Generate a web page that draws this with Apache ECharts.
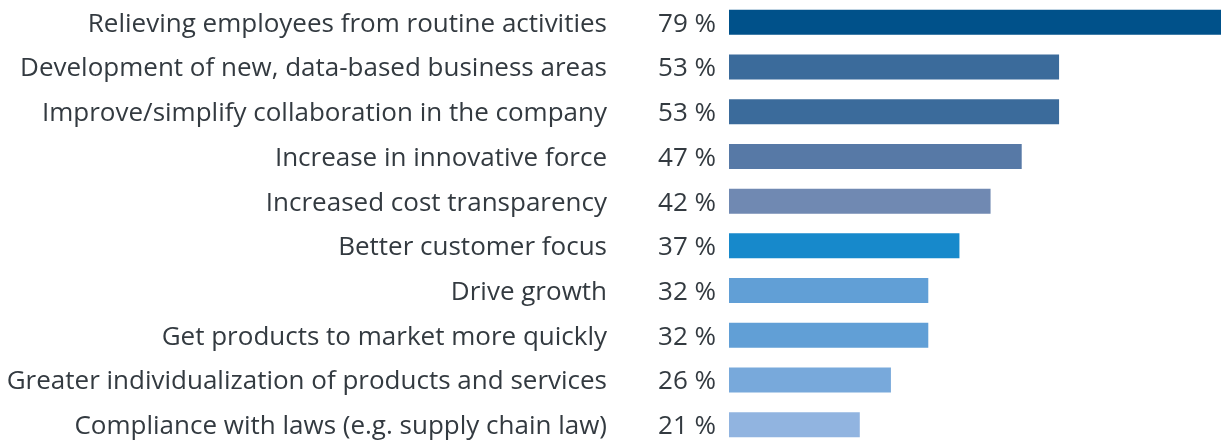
<!DOCTYPE html>
<html>
<head>
<meta charset="utf-8">
<style>
html,body{margin:0;padding:0;background:#fff;}
#chart{width:1221px;height:441px;}
</style>
<script src="https://cdn.jsdelivr.net/npm/echarts@6/dist/echarts.min.js"></script>
</head>
<body>
<div id="chart"></div>
<script>
const categories = [
  "Relieving employees from routine activities",
  "Development of new, data-based business areas",
  "Improve/simplify collaboration in the company",
  "Increase in innovative force",
  "Increased cost transparency",
  "Better customer focus",
  "Drive growth",
  "Get products to market more quickly",
  "Greater individualization of products and services",
  "Compliance with laws (e.g. supply chain law)"
];
const values = [79, 53, 53, 47, 42, 37, 32, 32, 26, 21];
const barColors = ["#00518a", "#3b6b9b", "#3b6b9b", "#5779a6", "#7089b2", "#1789cb", "#619fd6", "#619fd6", "#78a9db", "#91b4e0"];

const FONT = "Open Sans";
const TEXT = "#333a40";
const chart = echarts.init(document.getElementById('chart'), null, {renderer: 'canvas'});
chart.setOption({
  animation: false,
  grid: {left: 729, right: 0, top: 0, height: 447, containLabel: false, outerBoundsMode: 'none'},
  xAxis: {type: 'value', min: 0, max: 79, show: false},
  yAxis: {
    type: 'category', data: categories, inverse: true,
    axisLine: {show: false}, axisTick: {show: false}, splitLine: {show: false},
    axisLabel: {margin: 122, align: 'right',
      formatter: v => '{c|' + v + '}',
      rich: {c: {fontFamily: FONT, fontSize: 26, color: TEXT, padding: [4, 0, 0, 0]}}}
  },
  series: [{
    type: 'bar', barWidth: 25,
    data: values.map((v, i) => ({value: v, itemStyle: {color: barColors[i]}})),
    label: {show: true, position: 'left', distance: 13, offset: [0, 2], fontFamily: FONT, fontSize: 26, color: TEXT,
      formatter: p => p.value + ' %'}
  }]
});
</script>
</body>
</html>
